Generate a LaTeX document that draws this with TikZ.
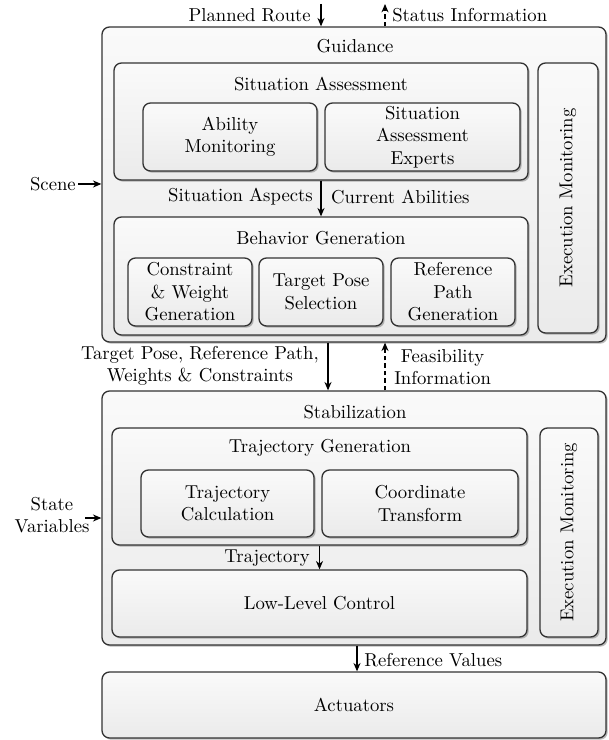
\documentclass[tikz,border=0pt]{standalone}
\usetikzlibrary{arrows.meta,shadows,calc}
\newcommand\mybox[7]{\node[box,#6,minimum width={(#4-#2)*0.535pt},minimum height={(#5-#3)*0.535pt}] (#1) at ({(#2+#4)/2},{(#3+#5)/2}) {#7};}
\begin{document}
\begin{tikzpicture}[x=0.535pt,y=-0.535pt,
  box/.style={draw=black!80, line width=0.7pt, rounded corners=4pt,
    top color=gray!4, bottom color=gray!16,
    drop shadow={shadow xshift=0.9pt, shadow yshift=-0.9pt, opacity=0.5, fill=black!55},
    align=center, inner sep=0pt},
  arr/.style={-{Stealth[length=4.5pt,width=3.8pt]}, line width=0.6pt},
  darr/.style={arr, dashed, dash pattern=on 2.5pt off 1.5pt},
  lbl/.style={inner sep=1pt, align=center}]
\useasboundingbox (0,0) rectangle (608,740);

% Guidance
\mybox{guid}{102}{27}{606}{342}{}{}
\node[lbl] (guidT) at (355,46) {Guidance};
\mybox{sa}{114}{63}{528}{180}{}{}
\node[lbl] (saT) at (321,84) {Situation Assessment};
\mybox{abil}{143}{103}{317}{171}{}{Ability\\Monitoring}
\mybox{exp}{325}{103}{520}{171}{}{Situation\\Assessment\\Experts}
\mybox{em1}{538}{63}{598}{333}{}{\rotatebox{90}{Execution Monitoring}}
\mybox{bg}{114}{217}{528}{335}{}{}
\node[lbl] (bgT) at (321,238) {Behavior Generation};
\mybox{cw}{128}{258}{252}{326}{}{Constraint\\\& Weight\\Generation}
\mybox{tp}{259}{258}{383}{326}{}{Target Pose\\Selection}
\mybox{rp}{391}{258}{515}{326}{}{Reference\\Path\\Generation}

% Stabilization
\mybox{stab}{102}{391}{606}{645}{}{}
\node[lbl] (stabT) at (355,412) {Stabilization};
\mybox{tg}{112}{428}{527}{545}{}{}
\node[lbl] (tgT) at (320,448) {Trajectory Generation};
\mybox{tc}{141}{470}{314}{537}{}{Trajectory\\Calculation}
\mybox{ct}{322}{470}{518}{537}{}{Coordinate\\Transform}
\mybox{em2}{540}{428}{598}{637}{}{\rotatebox{90}{Execution Monitoring}}
\mybox{llc}{112}{570}{527}{637}{}{Low-Level Control}

% Actuators
\mybox{act}{102}{672}{606}{738}{}{Actuators}

% top inputs/outputs
\coordinate (prTop) at (321,4);
\draw[arr] (prTop) -- (prTop |- guid.north);
\node[lbl, anchor=east] (pr) at (313,15) {Planned Route};
\coordinate (siTop) at (385,4);
\draw[darr] (siTop |- guid.north) -- (siTop);
\node[lbl, anchor=west] (si) at (390,15) {Status Information};

% Scene
\node[lbl, anchor=east] (scene) at (78,184) {Scene};
\draw[arr] (scene.east) -- (scene.east -| guid.west);

% SA -> BG
\draw[arr] (sa.south) -- (bg.north);
\node[lbl, anchor=east] (saasp) at (315,197) {Situation Aspects};
\node[lbl, anchor=west] (curab) at (329,197) {Current Abilities};

% Guidance <-> Stabilization
\coordinate (gs) at (328,0);
\draw[arr] (gs |- guid.south) -- (gs |- stab.north);
\node[lbl, anchor=east] (tpl) at (321,366) {Target Pose, Reference Path,\\Weights \& Constraints};
\coordinate (fb) at (385,0);
\draw[darr] (fb |- stab.north) -- (fb |- guid.south);
\node[lbl, anchor=west] (fbl) at (392,367) {Feasibility\\Information};

% State variables
\node[lbl] (sv) at (52,515) {State\\Variables};
\coordinate (svc) at (85,518);
\draw[arr] (svc) -- (svc -| stab.west);

% Trajectory
\draw[arr] (tg.south) -- (llc.north);
\node[lbl, anchor=east] (trl) at (312,558) {Trajectory};

% Reference values
\coordinate (rv) at (357,0);
\draw[arr] (rv |- stab.south) -- (rv |- act.north);
\node[lbl, anchor=west] (rvl) at (362,660) {Reference Values};
\end{tikzpicture}
\end{document}
